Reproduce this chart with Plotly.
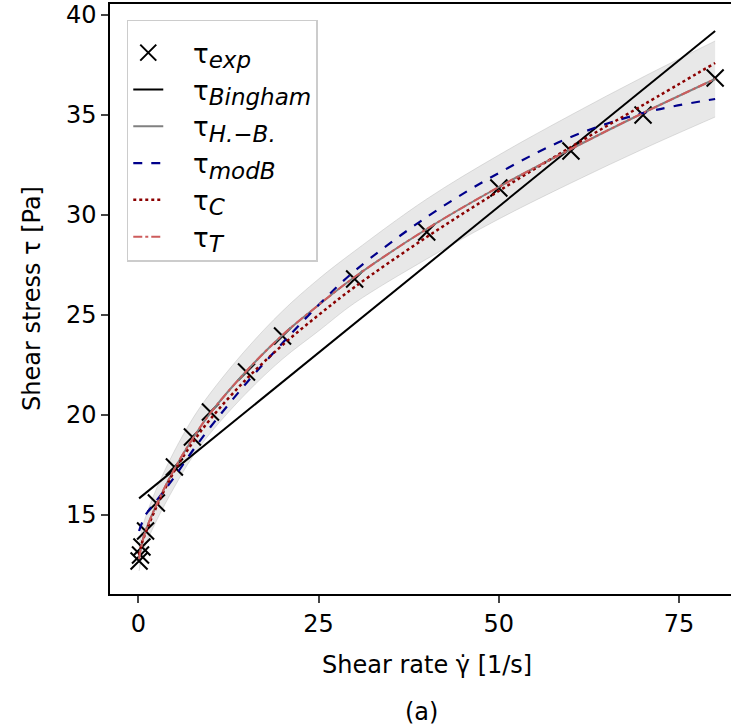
import plotly.graph_objects as go

# ---- data ----
gamma_exp = [0.1, 0.3, 0.5, 1.0, 2.5, 5, 7.5, 10, 15, 20, 30, 40, 50, 60, 70, 80]
tau_exp = [12.7, 13.0, 13.4, 14.2, 15.6, 17.4, 18.9, 20.15, 22.15, 23.95, 26.8, 29.15, 31.35, 33.2, 35.0, 36.85]

gamma_fit = [0.1, 0.5, 1, 2.5, 5, 7.5, 10, 15, 20, 25, 30, 40, 50, 60, 70, 80]
tau_hb = [12.85, 13.6, 14.2, 15.5, 17.3, 18.8, 20.1, 22.2, 24.0, 25.5, 26.9, 29.3, 31.4, 33.3, 35.1, 36.8]
tau_t = [12.8, 13.55, 14.2, 15.5, 17.3, 18.8, 20.1, 22.2, 24.0, 25.5, 26.9, 29.3, 31.4, 33.3, 35.1, 36.8]
tau_modb = [14.2, 14.6, 15.0, 15.7, 16.9, 18.2, 19.4, 21.6, 23.6, 25.5, 27.2, 29.9, 32.1, 33.9, 35.1, 35.8]
tau_c = [13.0, 13.6, 14.1, 15.4, 17.2, 18.6, 19.8, 21.8, 23.5, 25.0, 26.4, 28.9, 31.2, 33.4, 35.5, 37.6]
band_upper = [13.4, 14.3, 14.9, 16.3, 18.2, 19.8, 21.1, 23.3, 25.2, 26.8, 28.2, 30.8, 33.0, 35.0, 36.9, 38.7]
band_lower = [12.2, 12.9, 13.5, 14.7, 16.4, 17.9, 19.1, 21.1, 22.8, 24.2, 25.6, 27.8, 29.8, 31.6, 33.3, 34.9]

gamma_bingham = [0.1, 80]
tau_bingham = [15.83, 39.2]

x_ticks = [0, 25, 50, 75]
y_ticks = [15, 20, 25, 30, 35, 40]

legend_subs = ["exp", "Bingham", "H.−B.", "modB", "C", "T"]

FONT = "DejaVu Sans"
NB = "\u00a0"


def lab(sub):
    return NB * 3 + "τ<sub><span style=\"font-size:23px\"><i>" + sub + "</i></span></sub>"


fig = go.Figure()

# uncertainty band
fig.add_trace(go.Scatter(x=gamma_fit, y=band_lower, mode="lines", line=dict(color="rgba(170,170,170,0.35)", width=1, shape="spline"),
                         showlegend=False, hoverinfo="skip"))
fig.add_trace(go.Scatter(x=gamma_fit, y=band_upper, mode="lines", fill="tonexty", fillcolor="rgba(150,150,150,0.22)",
                         line=dict(color="rgba(170,170,170,0.35)", width=1, shape="spline"), showlegend=False, hoverinfo="skip"))

fig.add_trace(go.Scatter(x=gamma_exp, y=tau_exp, mode="markers", name=lab(legend_subs[0]),
                         marker=dict(symbol="x-thin", size=17, line=dict(color="black", width=2), color="black")))
fig.add_trace(go.Scatter(x=gamma_bingham, y=tau_bingham, mode="lines", name=lab(legend_subs[1]),
                         line=dict(color="black", width=2)))
fig.add_trace(go.Scatter(x=gamma_fit, y=tau_hb, mode="lines", name=lab(legend_subs[2]),
                         line=dict(color="#808080", width=2, shape="spline")))
fig.add_trace(go.Scatter(x=gamma_fit, y=tau_modb, mode="lines", name=lab(legend_subs[3]),
                         line=dict(color="#00008b", width=2.2, dash="dash", shape="spline")))
fig.add_trace(go.Scatter(x=gamma_fit, y=tau_c, mode="lines", name=lab(legend_subs[4]),
                         line=dict(color="#8b0000", width=2.5, dash="dot", shape="spline")))
fig.add_trace(go.Scatter(x=gamma_fit, y=tau_t, mode="lines", name=lab(legend_subs[5]),
                         line=dict(color="#cd5c5c", width=2, dash="dashdot", shape="spline")))

fig.update_layout(
    width=731, height=727,
    margin=dict(l=110, r=0, t=4, b=133),
    paper_bgcolor="white", plot_bgcolor="white",
    font=dict(family=FONT, size=24, color="black"),
    showlegend=True,
    legend=dict(x=0.027, y=0.973, xanchor="left", yanchor="top", traceorder="normal",
                bgcolor="white", bordercolor="#cccccc", borderwidth=1.5,
                title=dict(text=NB, font=dict(size=6)),
                font=dict(family=FONT, size=26), tracegroupgap=0, itemwidth=30),
    xaxis=dict(range=[-3.93, 82.2], tickvals=x_ticks, ticks="outside", ticklen=7, tickwidth=1.5,
               showline=True, linewidth=1.5, linecolor="black", mirror=True, showgrid=False, zeroline=False,
               tickfont=dict(family=FONT, size=24)),
    yaxis=dict(range=[11.05, 40.55], tickvals=y_ticks, ticks="outside", ticklen=7, tickwidth=1.5,
               showline=True, linewidth=1.5, linecolor="black", mirror=False, showgrid=False, zeroline=False,
               tickfont=dict(family=FONT, size=24)),
    annotations=[
        dict(text="Shear rate γ̇ [1/s]", xref="paper", yref="paper", x=0.5105, y=0, yshift=-71,
             xanchor="center", yanchor="middle", showarrow=False, font=dict(family=FONT, size=24)),
        dict(text="Shear stress τ [Pa]", xref="paper", yref="paper", x=0, xshift=-78, y=0.5,
             xanchor="center", yanchor="middle", textangle=-90, showarrow=False, font=dict(family=FONT, size=24)),
        dict(text="(a)", xref="paper", yref="paper", x=0.502, y=0, yshift=-118,
             xanchor="center", yanchor="middle", showarrow=False, font=dict(family=FONT, size=24)),
    ],
)

fig.write_html("out.html", config={"displayModeBar": False},
               post_script="document.body.style.margin='0';document.body.style.overflow='hidden';")
